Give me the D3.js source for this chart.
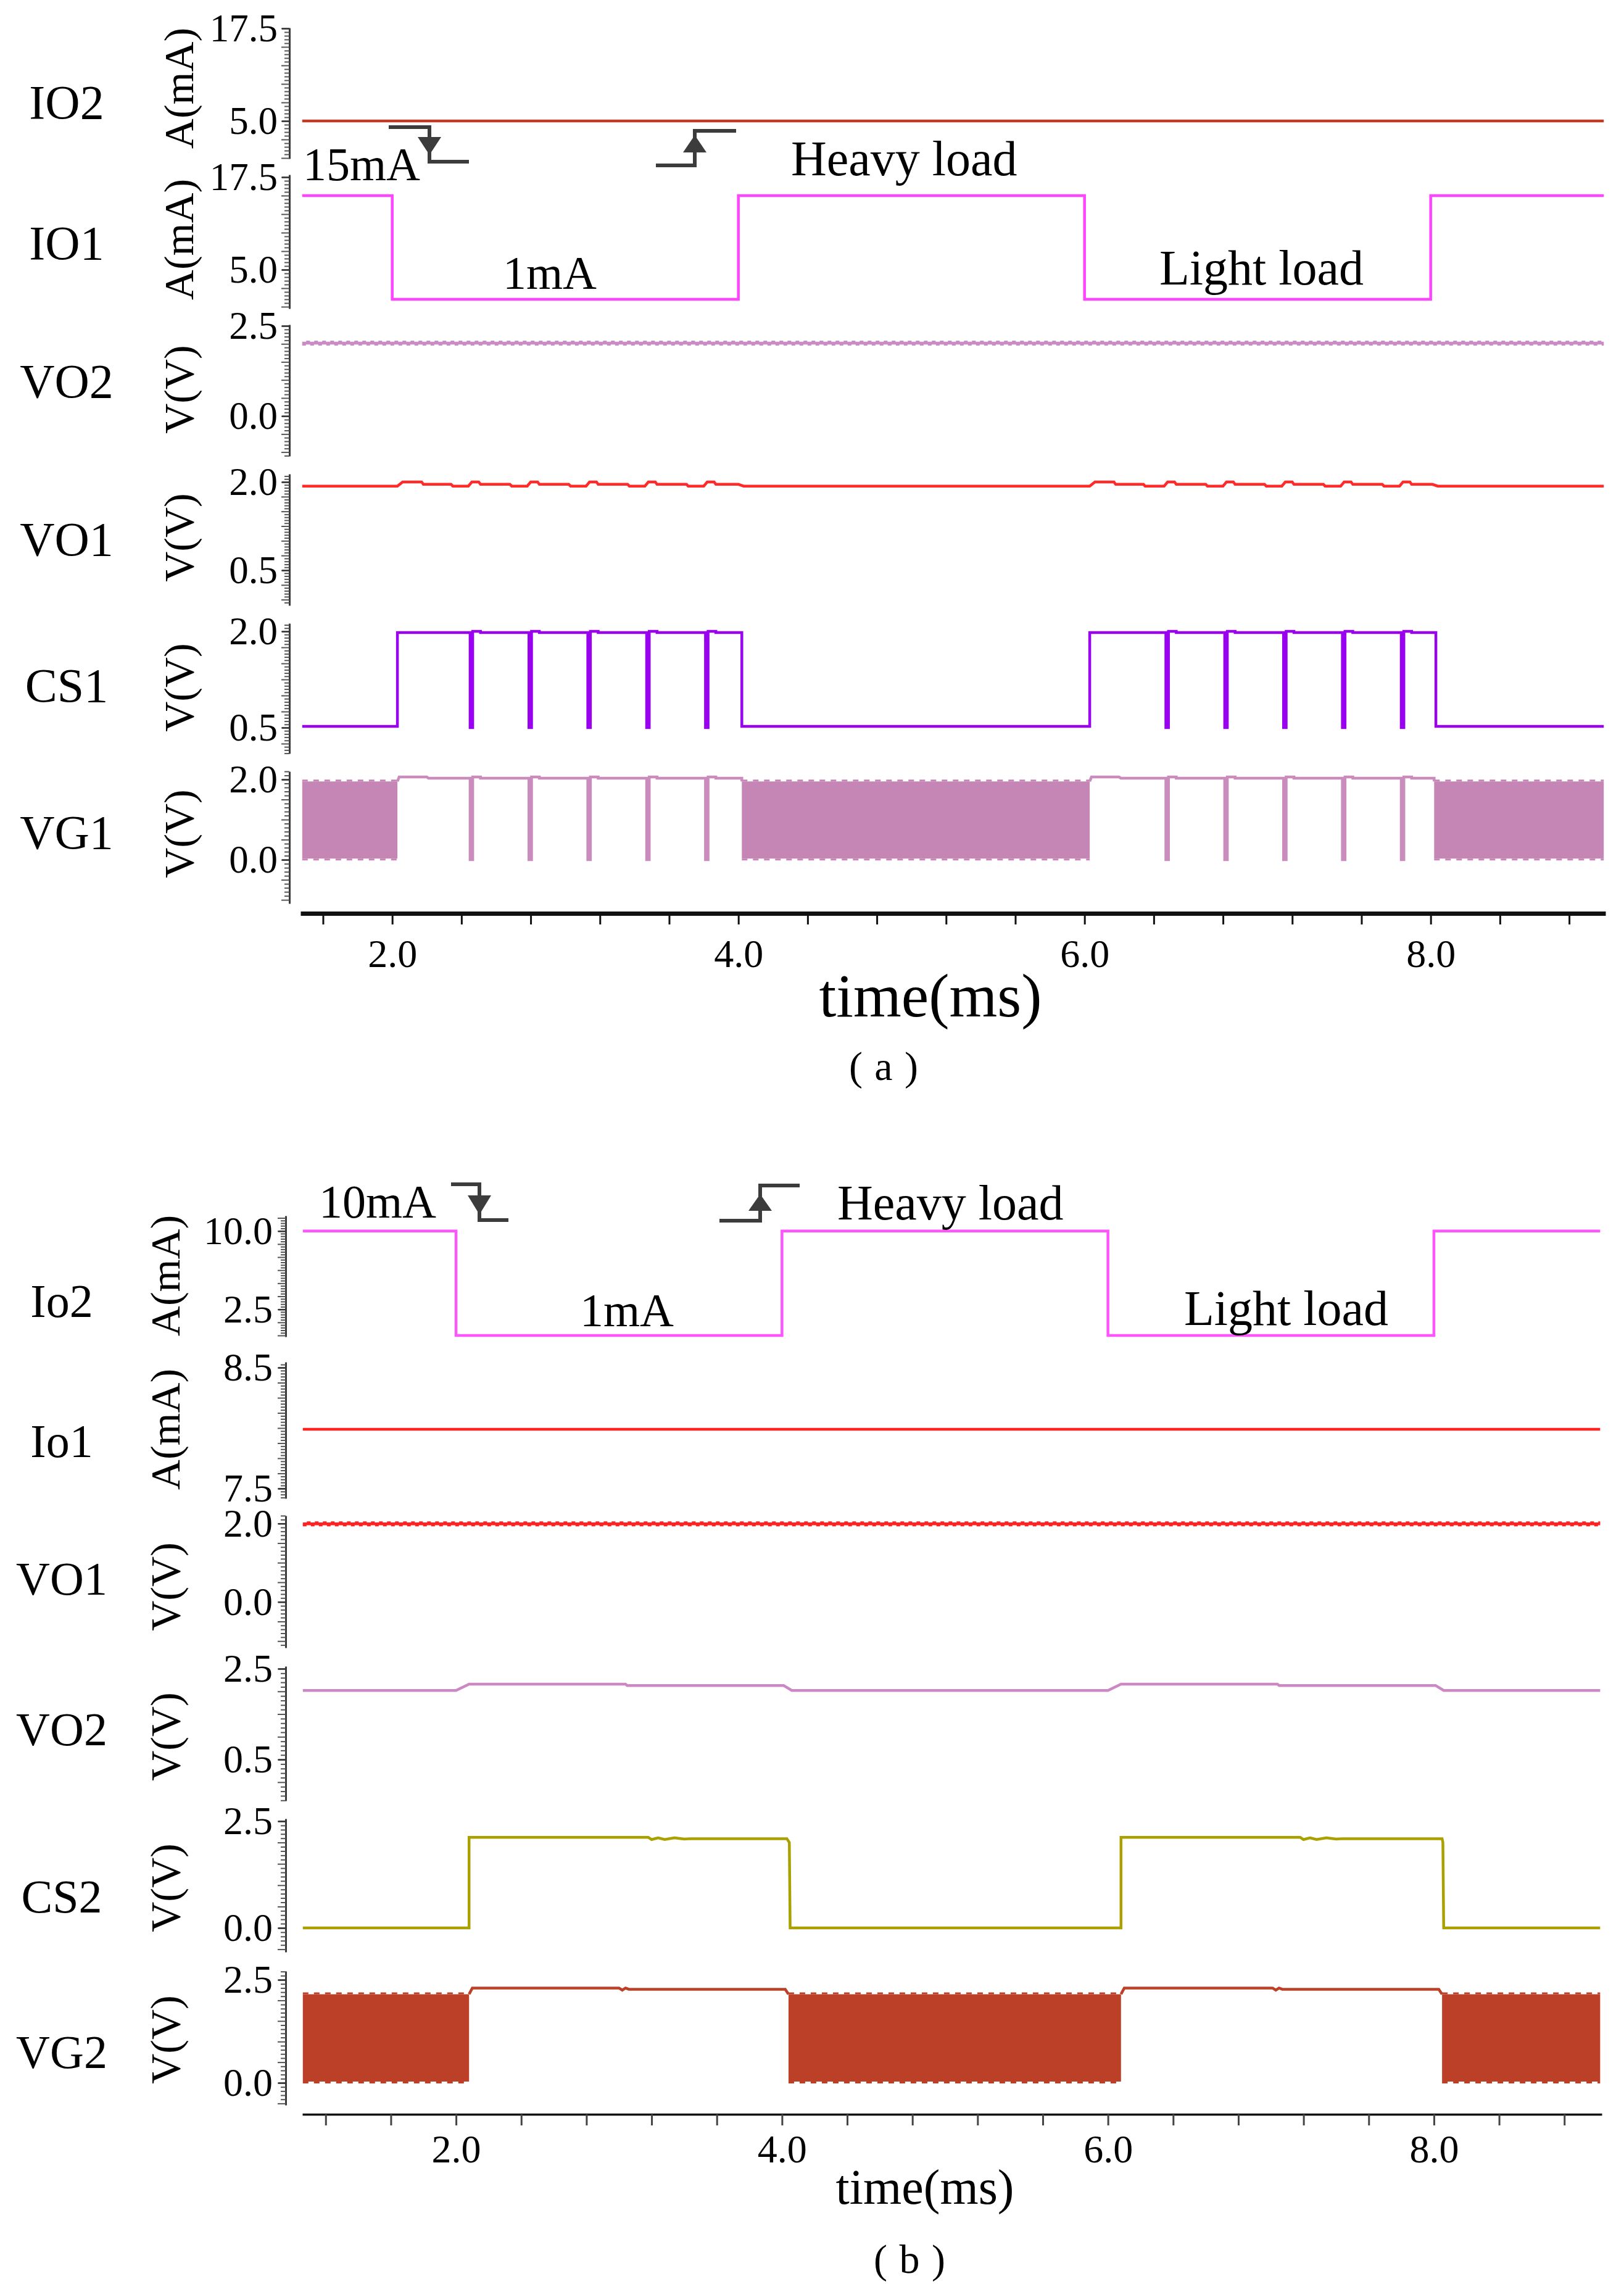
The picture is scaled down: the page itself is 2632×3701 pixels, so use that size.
<!DOCTYPE html>
<html><head><meta charset="utf-8">
<script src="https://cdn.jsdelivr.net/npm/d3@7"></script>
<style>body{margin:0;background:#fff}svg{display:block}</style>
</head><body>
<svg id="c" width="2632" height="3701"></svg>
<script>
// ---------------- DATA ----------------
const timeTicksA = [1.6,2.0,2.4,2.8,3.2,3.6,4.0,4.4,4.8,5.2,5.6,6.0,6.4,6.8,7.2,7.6,8.0,8.4,8.8];
const timeTicksB = [1.2,1.6,2.0,2.4,2.8,3.2,3.6,4.0,4.4,4.8,5.2,5.6,6.0,6.4,6.8,7.2,7.6,8.0,8.4,8.8];
const timeLabels = [2.0,4.0,6.0,8.0];

// (a)
const io2A = [[1.48,5.0],[9.0,5.0]];
const io1A = [[1.48,15],[2.0,15],[2.0,1],[4.0,1],[4.0,15],[6.0,15],[6.0,1],[8.0,1],[8.0,15],[9.0,15]];
const vo2A = [[1.48,2.02],[9.0,2.02]];
const vo1A = [[1.48,1.93],[2.03,1.93],[2.06,2.0],[2.17,2.0],[2.18,1.96],[2.34,1.96],[2.35,1.93],[2.44,1.93],[2.46,2.0],[2.50,2.0],[2.51,1.96],[2.68,1.96],[2.69,1.93],[2.78,1.93],[2.80,2.0],[2.84,2.0],[2.85,1.96],[3.02,1.96],[3.03,1.93],[3.12,1.93],[3.14,2.0],[3.18,2.0],[3.19,1.96],[3.36,1.96],[3.37,1.93],[3.46,1.93],[3.48,2.0],[3.52,2.0],[3.53,1.96],[3.70,1.96],[3.71,1.93],[3.80,1.93],[3.82,2.0],[3.86,2.0],[3.87,1.96],[4.00,1.96],[4.03,1.93],
  [6.03,1.93],[6.06,2.0],[6.17,2.0],[6.18,1.96],[6.34,1.96],[6.35,1.93],[6.46,1.93],[6.48,2.0],[6.52,2.0],[6.53,1.96],[6.70,1.96],[6.71,1.93],[6.80,1.93],[6.82,2.0],[6.86,2.0],[6.87,1.96],[7.04,1.96],[7.05,1.93],[7.14,1.93],[7.16,2.0],[7.20,2.0],[7.21,1.96],[7.38,1.96],[7.39,1.93],[7.48,1.93],[7.50,2.0],[7.54,2.0],[7.55,1.96],[7.72,1.96],[7.73,1.93],[7.82,1.93],[7.84,2.0],[7.88,2.0],[7.89,1.96],[8.01,1.96],[8.04,1.93],[9.0,1.93]];
const cs1A = [[1.48,0.52],[2.03,0.52],[2.03,1.98],[2.45,1.98],[2.45,0.5],[2.465,0.5],[2.465,2.0],[2.51,2.0],[2.51,1.98],[2.79,1.98],[2.79,0.5],[2.805,0.5],[2.805,2.0],[2.85,2.0],[2.85,1.98],[3.13,1.98],[3.13,0.5],[3.145,0.5],[3.145,2.0],[3.19,2.0],[3.19,1.98],[3.47,1.98],[3.47,0.5],[3.485,0.5],[3.485,2.0],[3.53,2.0],[3.53,1.98],[3.81,1.98],[3.81,0.5],[3.825,0.5],[3.825,2.0],[3.87,2.0],[3.87,1.98],[4.02,1.98],[4.02,0.52],
  [6.03,0.52],[6.03,1.98],[6.47,1.98],[6.47,0.5],[6.485,0.5],[6.485,2.0],[6.53,2.0],[6.53,1.98],[6.81,1.98],[6.81,0.5],[6.825,0.5],[6.825,2.0],[6.87,2.0],[6.87,1.98],[7.15,1.98],[7.15,0.5],[7.165,0.5],[7.165,2.0],[7.21,2.0],[7.21,1.98],[7.49,1.98],[7.49,0.5],[7.505,0.5],[7.505,2.0],[7.55,2.0],[7.55,1.98],[7.83,1.98],[7.83,0.5],[7.845,0.5],[7.845,2.0],[7.89,2.0],[7.89,1.98],[8.03,1.98],[8.03,0.52],[9.0,0.52]];
const vg1ABands = [[1.48,2.03],[4.02,6.03],[8.02,9.0]];
const vg1ALevels = [0.03,1.95];
const vg1AHeavy = [[2.03,1.95],[2.04,2.06],[2.20,2.06],[2.21,2.03],[2.45,2.03],[2.45,0.0],[2.465,0.0],[2.465,2.06],[2.51,2.06],[2.51,2.03],[2.79,2.03],[2.79,0.0],[2.805,0.0],[2.805,2.06],[2.85,2.06],[2.85,2.03],[3.13,2.03],[3.13,0.0],[3.145,0.0],[3.145,2.06],[3.19,2.06],[3.19,2.03],[3.47,2.03],[3.47,0.0],[3.485,0.0],[3.485,2.06],[3.53,2.06],[3.53,2.03],[3.81,2.03],[3.81,0.0],[3.825,0.0],[3.825,2.06],[3.87,2.06],[3.87,2.03],[4.02,2.03],[4.02,1.95]];
const vg1AHeavy2 = [[6.03,1.95],[6.04,2.06],[6.20,2.06],[6.21,2.03],[6.47,2.03],[6.47,0.0],[6.485,0.0],[6.485,2.06],[6.53,2.06],[6.53,2.03],[6.81,2.03],[6.81,0.0],[6.825,0.0],[6.825,2.06],[6.87,2.06],[6.87,2.03],[7.15,2.03],[7.15,0.0],[7.165,0.0],[7.165,2.06],[7.21,2.06],[7.21,2.03],[7.49,2.03],[7.49,0.0],[7.505,0.0],[7.505,2.06],[7.55,2.06],[7.55,2.03],[7.83,2.03],[7.83,0.0],[7.845,0.0],[7.845,2.06],[7.89,2.06],[7.89,2.03],[8.02,2.03],[8.02,1.95]];

// (b)
const io2B = [[1.06,10],[2.0,10],[2.0,0],[4.0,0],[4.0,10],[6.0,10],[6.0,0],[8.0,0],[8.0,10],[9.02,10]];
const io1B = [[1.06,7.99],[9.02,7.99]];
const vo1B = [[1.06,1.99],[9.02,1.99]];
const vo2B = [[1.06,2.02],[2.0,2.02],[2.08,2.16],[3.04,2.16],[3.05,2.13],[4.01,2.13],[4.06,2.02],[6.0,2.02],[6.08,2.16],[7.04,2.16],[7.05,2.13],[8.01,2.13],[8.06,2.02],[9.02,2.02]];
const cs2B = [[1.06,0.0],[2.08,0.0],[2.08,2.12],[3.18,2.12],[3.20,2.07],[3.24,2.11],[3.28,2.07],[3.34,2.11],[3.40,2.08],[3.44,2.09],[4.03,2.09],[4.045,2.0],[4.05,0.0],
  [6.08,0.0],[6.08,2.12],[7.18,2.12],[7.20,2.07],[7.24,2.11],[7.28,2.07],[7.34,2.11],[7.40,2.08],[7.44,2.09],[8.05,2.09],[8.055,2.0],[8.06,0.0],[9.02,0.0]];
const vg2BBands = [[1.06,2.08],[4.04,6.08],[8.05,9.02]];
const vg2BLevels = [0.03,2.15];
const vg2BHeavy = [[2.08,2.15],[2.10,2.30],[3.00,2.30],[3.02,2.25],[3.04,2.30],[3.06,2.27],[4.02,2.27],[4.04,2.15]];
const vg2BHeavy2 = [[6.08,2.15],[6.10,2.30],[7.01,2.30],[7.03,2.25],[7.05,2.30],[7.07,2.27],[8.03,2.27],[8.05,2.15]];

// ---------------- LAYOUT ----------------
const SERIF = "'Liberation Serif','Times New Roman',Times,serif";
const svg = d3.select('#c');
svg.append('rect').attr('width',2632).attr('height',3701).attr('fill','#fff');

const chartA = {
  x: d3.scaleLinear().domain([1.47,9.01]).range([487,2602]),
  axisX: 469, nameX: 108, unitX: 290, nameFs: 78, tickFs: 63, tickPad: 7,
  xAxisY: 1480, xTicks: timeTicksA, xAxisW: 7, xTickColor:'#111', xLabelPad: 24,
  panels: [
    {name:'IO2', unit:'A(mA)', top:45,  bot:257, dom:[-0.083,17.58], ticks:[5.0,17.5], minor:0.5, nameY:165, unitY:143,
      lines:[{d:io2A,c:'#bf3b26'}]},
    {name:'IO1', unit:'A(mA)', top:283, bot:500, dom:[-0.25,17.83], ticks:[5.0,17.5], minor:0.5, nameY:393, unitY:388,
      lines:[{d:io1A,c:'#ff44ff'}]},
    {name:'VO2', unit:'V(V)', top:526, bot:739, dom:[-1.11,2.534], ticks:[0.0,2.5], minor:0.1, nameY:617, unitY:631,
      lines:[{d:vo2A,c:'#c98cc4',ripple:true}]},
    {name:'VO1', unit:'V(V)', top:768, bot:981, dom:[-0.098,2.136], ticks:[0.5,2.0], minor:0.05, nameY:873, unitY:871,
      lines:[{d:vo1A,c:'#ff2a2a'}]},
    {name:'CS1', unit:'V(V)', top:1010, bot:1221, dom:[0.096,2.125], ticks:[0.5,2.0], minor:0.05, nameY:1110, unitY:1114,
      lines:[{d:cs1A,c:'#9a00f0'}]},
    {name:'VG1', unit:'V(V)', top:1250, bot:1464, dom:[-1.09,2.2], ticks:[0.0,2.0], minor:0.1, nameY:1348, unitY:1351,
      bands:{spans:vg1ABands, lv:vg1ALevels, c:'#c586b6'},
      lines:[{d:vg1AHeavy,c:'#c98cbc'},{d:vg1AHeavy2,c:'#c98cbc'}]}
  ]
};
const chartB = {
  x: d3.scaleLinear().domain([1.057,9.03]).range([490,2596]),
  axisX: 463, nameX: 100, unitX: 268, nameFs: 76, tickFs: 64, tickPad: 9,
  xAxisY: 3426, xTicks: timeTicksB, xAxisW: 3.5, xTickColor:'#444', xLabelPad: 15,
  panels: [
    {name:'Io2', unit:'A(mA)', top:1970, bot:2166, dom:[-0.12,11.46], ticks:[2.5,10.0], minor:0.25, nameY:2108, unitY:2067,
      lines:[{d:io2B,c:'#ff55ff'}]},
    {name:'Io1', unit:'A(mA)', top:2207, bot:2428, dom:[7.418,8.546], ticks:[7.5,8.5], minor:0.025, nameY:2335, unitY:2316,
      lines:[{d:io1B,c:'#ff2222'}]},
    {name:'VO1', unit:'V(V)', top:2456, bot:2670, dom:[-1.17,2.2], ticks:[0.0,2.0], minor:0.1, nameY:2558, unitY:2571,
      lines:[{d:vo1B,c:'#ff2222',ripple:true}]},
    {name:'VO2', unit:'V(V)', top:2700, bot:2918, dom:[-0.41,2.554], ticks:[0.5,2.5], minor:0.1, nameY:2802, unitY:2814,
      lines:[{d:vo2B,c:'#cc88c4'}]},
    {name:'CS2', unit:'V(V)', top:2947, bot:3163, dom:[-0.564,2.558], ticks:[0.0,2.5], minor:0.1, nameY:3073, unitY:3059,
      lines:[{d:cs2B,c:'#aaa000'}]},
    {name:'VG2', unit:'V(V)', top:3194, bot:3411, dom:[-0.539,2.71], ticks:[0.0,2.5], minor:0.1, nameY:3325, unitY:3305,
      bands:{spans:vg2BBands, lv:vg2BLevels, c:'#bc4027'},
      lines:[{d:vg2BHeavy,c:'#bc4027'},{d:vg2BHeavy2,c:'#bc4027'}]}
  ]
};

function drawChart(ch) {
  const x = ch.x;
  ch.panels.forEach(p => {
    const y = d3.scaleLinear().domain(p.dom).range([p.bot, p.top]);
    const g = svg.append('g');
    // ruler minor ticks
    const n0 = Math.ceil(p.dom[0]/p.minor - 1e-6), n1 = Math.floor(p.dom[1]/p.minor + 1e-6);
    const minorVals = d3.range(n0, n1+1).map(i => i*p.minor);
    const mg = g.append('g').attr('transform',`translate(${ch.axisX},0)`)
      .call(d3.axisLeft(y).tickValues(minorVals).tickSize(8).tickSizeOuter(0).tickFormat(''));
    mg.selectAll('.tick line').attr('stroke','#555').attr('stroke-width',2)
      .attr('x2', (d) => (Math.round(d/p.minor) % 5 === 0) ? -13 : -8);
    mg.select('.domain').attr('stroke','#3a3a3a').attr('stroke-width',3);
    // labelled ticks
    const lg = g.append('g').attr('transform',`translate(${ch.axisX},0)`)
      .call(d3.axisLeft(y).tickValues(p.ticks).tickSize(12).tickSizeOuter(0).tickPadding(ch.tickPad).tickFormat(d3.format('.1f')));
    lg.select('.domain').remove();
    lg.selectAll('.tick line').attr('stroke','#333').attr('stroke-width',2.5);
    lg.selectAll('.tick text').attr('font-family',SERIF).attr('font-size',ch.tickFs).attr('fill','#000');
    // name & unit
    g.append('text').attr('x',ch.nameX).attr('y',p.nameY).attr('text-anchor','middle').attr('dominant-baseline','central')
      .attr('font-family',SERIF).attr('font-size',ch.nameFs).text(p.name);
    g.append('text').attr('transform',`translate(${ch.unitX},${p.unitY}) rotate(-90)`).attr('text-anchor','middle')
      .attr('dominant-baseline','central').attr('font-family',SERIF).attr('font-size',68).text(p.unit);
    // bands (switching envelope)
    if (p.bands) {
      const area = d3.area().x(d => x(d)).y0(y(p.bands.lv[0])).y1(y(p.bands.lv[1]));
      p.bands.spans.forEach(s => {
        g.append('path').attr('d', area(s)).attr('fill', p.bands.c);
        [p.bands.lv[0], p.bands.lv[1]].forEach((lv, k) => {
          g.append('line').attr('x1', x(s[0])).attr('x2', x(s[1])).attr('y1', y(lv)).attr('y2', y(lv))
            .attr('stroke', p.bands.c).attr('stroke-width', 3).attr('stroke-dasharray', '9 9')
            .attr('transform', `translate(0,${k === 0 ? 1.5 : -1.5})`);
        });
      });
    }
    // lines
    const line = d3.line().x(d => x(d[0])).y(d => y(d[1]));
    p.lines.forEach(s => {
      g.append('path').attr('d', line(s.d)).attr('fill','none').attr('stroke', s.c)
        .attr('stroke-width', 4.5).attr('stroke-linejoin','miter');
      if (s.ripple) {
        g.append('path').attr('d', line(s.d)).attr('fill','none').attr('stroke', s.c)
          .attr('stroke-width', 3).attr('stroke-dasharray','6 7').attr('transform','translate(0,2.5)');
        g.append('path').attr('d', line(s.d)).attr('fill','none').attr('stroke', s.c)
          .attr('stroke-width', 3).attr('stroke-dasharray','6 7').attr('stroke-dashoffset',6.5).attr('transform','translate(0,-2.5)');
      }
    });
  });
  // time axis
  const xa = svg.append('g').attr('transform',`translate(0,${ch.xAxisY})`)
    .call(d3.axisBottom(x).tickValues(ch.xTicks).tickSize(18).tickSizeOuter(0).tickPadding(ch.xLabelPad)
      .tickFormat(d => timeLabels.some(v => Math.abs(v-d) < 1e-6) ? d3.format('.1f')(d) : ''));
  xa.select('.domain').attr('stroke','#111').attr('stroke-width',ch.xAxisW);
  xa.selectAll('.tick line').attr('stroke',ch.xTickColor).attr('stroke-width',3);
  xa.selectAll('.tick text').attr('font-family',SERIF).attr('font-size',64).attr('fill','#000');
}
drawChart(chartA);
drawChart(chartB);

// ---------------- TITLES / ANNOTATIONS ----------------
const texts = [
  {t:'time(ms)', x:1508, y:1647, fs:100, a:'middle'},
  {t:'time(ms)', x:1499, y:3571, fs:80, a:'middle'},
  {t:'15mA', x:491, y:292, fs:76, a:'start'},
  {t:'1mA', x:815, y:468, fs:76, a:'start'},
  {t:'Heavy load', x:1282, y:284, fs:80, a:'start'},
  {t:'Light load', x:1879, y:461, fs:80, a:'start'},
  {t:'10mA', x:517, y:1973, fs:76, a:'start'},
  {t:'1mA', x:940, y:2149, fs:76, a:'start'},
  {t:'Heavy load', x:1357, y:1976, fs:80, a:'start'},
  {t:'Light load', x:1919, y:2147, fs:80, a:'start'}
];
texts.forEach(o => svg.append('text').attr('x',o.x).attr('y',o.y).attr('text-anchor',o.a)
  .attr('font-family',SERIF).attr('font-size',o.fs).attr('fill','#000').text(o.t));

// sub-figure captions, full-width style: "（a）" drawn with wide paren spacing
const captions = [{l:'a', x:1432, y:1750, w:45}, {l:'b', x:1474, y:3683, w:47}];
captions.forEach(c => {
  const t = svg.append('text').attr('x',c.x).attr('y',c.y).attr('text-anchor','middle')
    .attr('font-family',SERIF).attr('font-size',66).attr('fill','#000');
  t.append('tspan').attr('x', c.x - c.w).text('(');
  t.append('tspan').attr('x', c.x).text(c.l);
  t.append('tspan').attr('x', c.x + c.w).text(')');
});

// step arrows: path points + arrowhead [tipX, tipY, baseY]
const arrows = [
  {p:[[630,206],[696,206],[696,262],[760,262]], h:[696,251,222]},
  {p:[[1063,268],[1126,268],[1126,212],[1193,212]], h:[1126,219,247]},
  {p:[[731,1919],[777,1919],[777,1977],[824,1977]], h:[777,1968,1937]},
  {p:[[1166,1978],[1232,1978],[1232,1921],[1296,1921]], h:[1232,1935,1962]}
];
arrows.forEach(a => {
  svg.append('path').attr('d', d3.line()(a.p)).attr('fill','none').attr('stroke','#3c3c3c').attr('stroke-width',6);
  const [tx,ty,by] = a.h;
  svg.append('path').attr('d', d3.line()([[tx,ty],[tx-19,by],[tx+19,by]]) + 'Z').attr('fill','#3c3c3c');
});
</script>
</body></html>
